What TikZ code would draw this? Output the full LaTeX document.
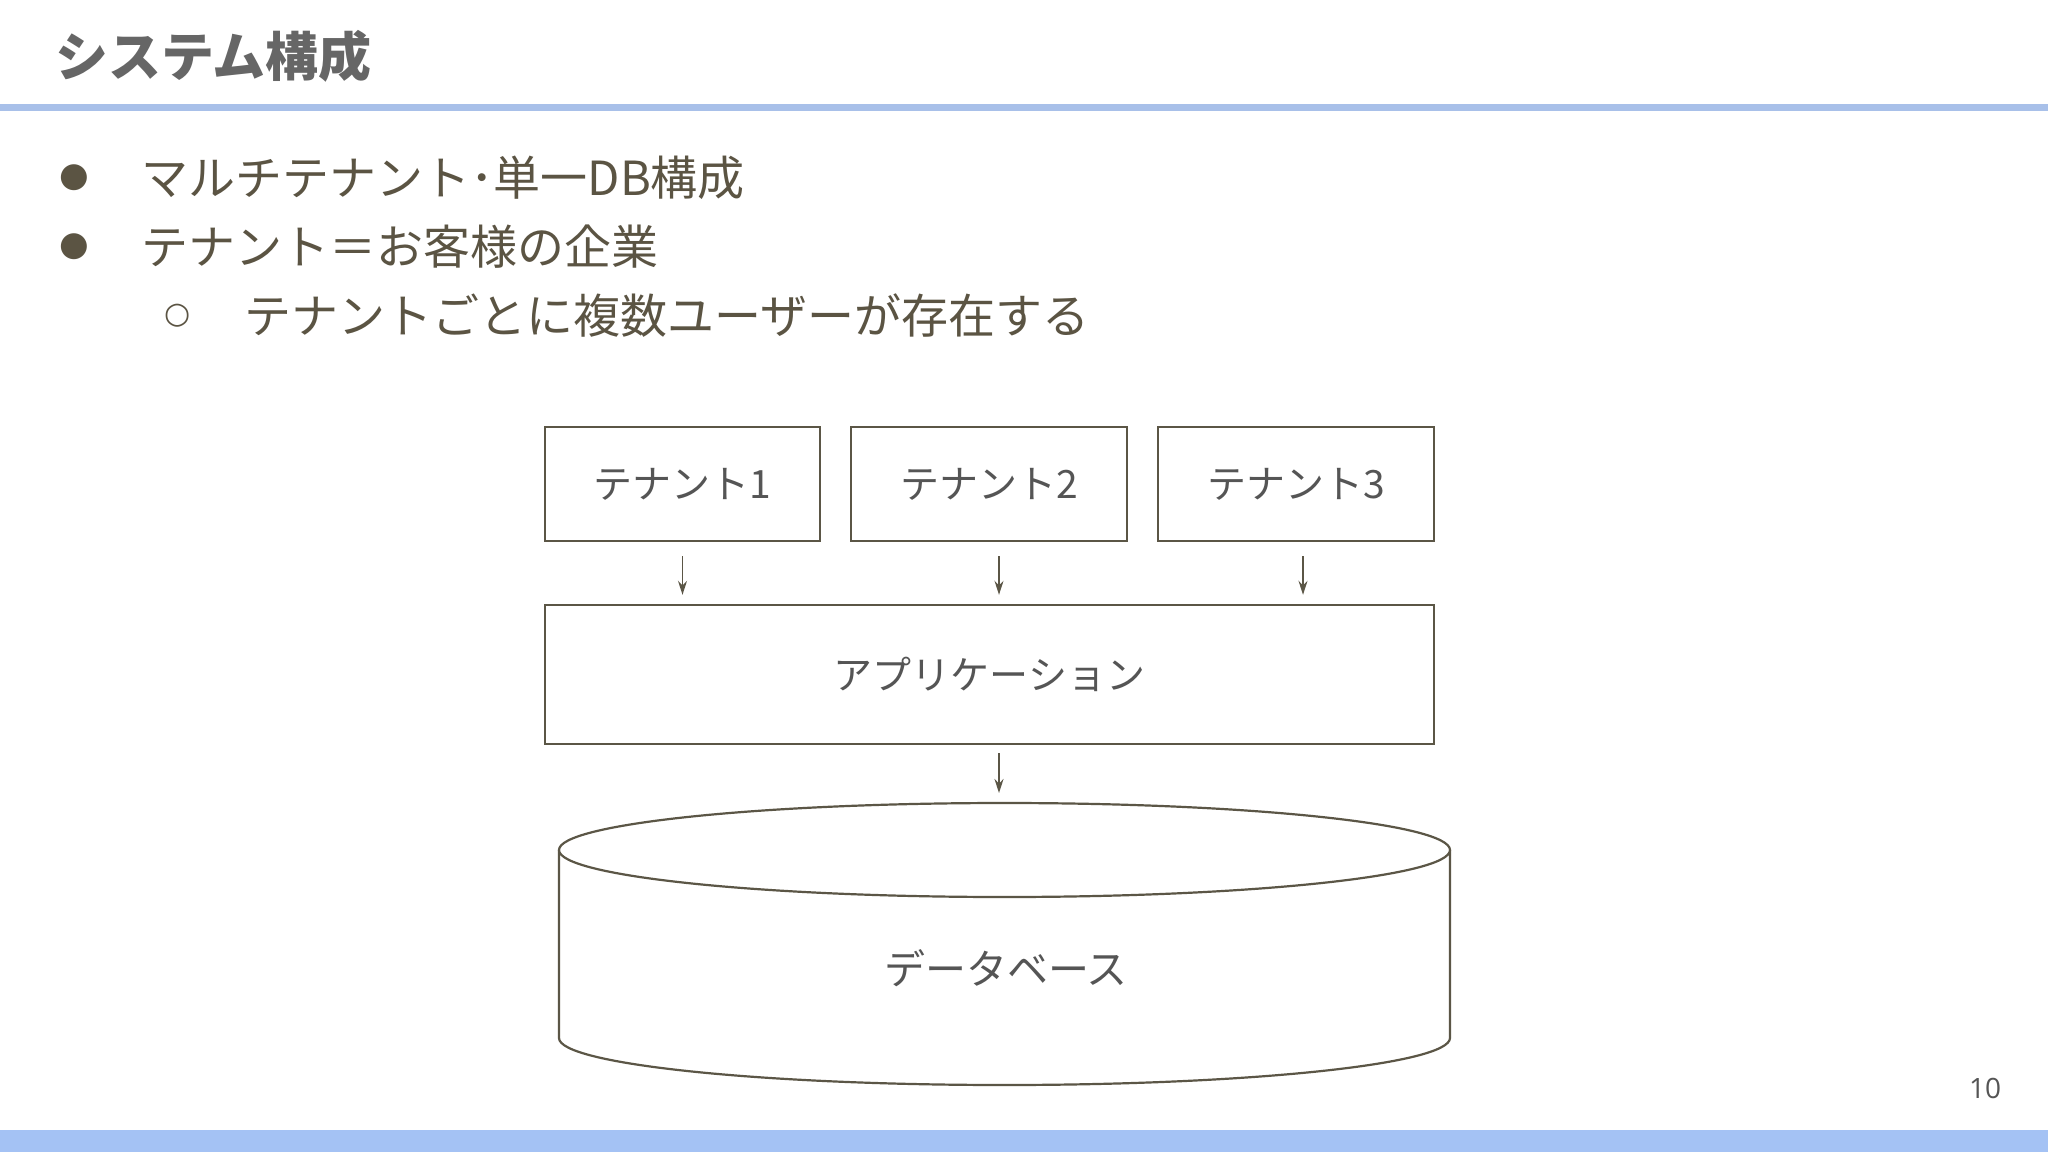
\documentclass[tikz,border=0pt]{standalone}
\usepackage{fontspec}
\setmainfont{Noto Sans CJK JP}
\newfontfamily\cjkfont{Noto Sans CJK JP}
\newfontfamily\symfont{DejaVu Sans}
\newfontfamily\numfont{Open Sans}
\usetikzlibrary{arrows.meta}
\definecolor{blueline}{HTML}{A8C0E9}
\definecolor{bluebar}{HTML}{A4C2F4}
\definecolor{titlegray}{HTML}{666666}
\definecolor{textbrown}{HTML}{5B5443}
\definecolor{labelgray}{HTML}{555555}
\definecolor{edgecol}{HTML}{5B5646}
\begin{document}
\begin{tikzpicture}[x=1pt,y=-1pt,
  box/.style={draw=edgecol, line width=2.4pt, fill=white, inner sep=0pt},
  lbl/.style={font=\cjkfont\fontsize{39}{47}\selectfont, text=labelgray},
  arr/.style={draw=edgecol, line width=1.7pt, -{Stealth[length=14pt,width=9pt]}},
  btext/.style={anchor=west, font=\cjkfont\fontsize{47}{56}\selectfont, text=textbrown, inner sep=0pt},
  bmark/.style={font=\symfont\fontsize{34}{36}\selectfont, text=textbrown, inner sep=0pt}]
\useasboundingbox (0,0) rectangle (2048,1152);
\fill[white] (0,0) rectangle (2048,1152);
\fill[blueline] (0,104) rectangle (2048,111);
\fill[bluebar] (0,1130) rectangle (2048,1152);
% title
\node[anchor=west, inner sep=0pt, font=\cjkfont\bfseries\fontsize{53}{60}\selectfont, text=titlegray] (title) at (55,56) {システム構成};
% bullets
\node[bmark] (m1) at (74,178) {●};
\node[btext] (b1) at (141,178) {マルチテナント･単一DB構成};
\node[bmark] (m2) at (74,247) {●};
\node[btext] (b2) at (141,247) {テナント＝お客様の企業};
\node[bmark, font=\symfont\fontsize{30}{32}\selectfont] (m3) at (178,316) {○};
\node[btext] (b3) at (244,316) {テナントごとに複数ユーザーが存在する};
% boxes
\node[box, lbl, minimum width=275pt, minimum height=114pt] (t1) at (682.5,484) {テナント1};
\node[box, lbl, minimum width=276pt, minimum height=114pt] (t2) at (989,484) {テナント2};
\node[box, lbl, minimum width=276pt, minimum height=114pt] (t3) at (1296,484) {テナント3};
\node[box, lbl, minimum width=889pt, minimum height=139pt] (app) at (989.5,674.5) {アプリケーション};
% database cylinder
\fill[white] (559,850) -- (559,1038) arc[start angle=180, end angle=360, x radius=445.5pt, y radius=47pt] -- (1450,850) -- cycle;
\draw[edgecol, line width=2.2pt] (559,850) -- (559,1038) arc[start angle=180, end angle=360, x radius=445.5pt, y radius=47pt] -- (1450,850);
\draw[edgecol, line width=2.2pt, fill=white] (1004.5,850) ellipse[x radius=445.5pt, y radius=47pt];
\node[lbl, font=\cjkfont\fontsize{41}{49}\selectfont] (db) at (1006,968) {データベース};
\coordinate (dbtop) at (1004.5,803);
% arrows
\draw[arr, shorten <=14pt, shorten >=9pt] (t1.south) -- (t1.south |- app.north);
\draw[arr, shorten <=14pt, shorten >=9pt] ([xshift=10pt]t2.south) -- ([xshift=10pt]t2.south |- app.north);
\draw[arr, shorten <=14pt, shorten >=9pt] ([xshift=7pt]t3.south) -- ([xshift=7pt]t3.south |- app.north);
\draw[arr, shorten <=8pt, shorten >=10pt] ([xshift=9.5pt]app.south) -- ([xshift=9.5pt]app.south |- dbtop);
% page number
\node[font=\numfont\fontsize{28}{30}\selectfont, text=labelgray, inner sep=0pt] (pg) at (1985,1088) {10};
\end{tikzpicture}
\end{document}
